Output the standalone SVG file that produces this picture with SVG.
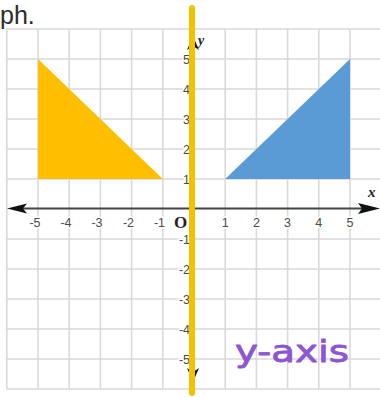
<svg xmlns="http://www.w3.org/2000/svg" width="380" height="397" viewBox="0 0 380 397">
<style>
.grid line{stroke:#d9d9d9;stroke-width:1.6}
.tl{font-family:"Liberation Sans",Arial,sans-serif;font-size:12.5px;fill:#4a4a4a;stroke:#fff;stroke-width:3;paint-order:stroke;stroke-linejoin:round}
.tx{text-anchor:middle}
.ty{text-anchor:end}
.it{font-family:"Liberation Serif","Times New Roman",serif;font-style:italic;font-weight:bold;fill:#222}
</style>
<rect width="380" height="397" fill="#fff"/>
<text x="0" y="24" font-family="'Liberation Sans',Arial,sans-serif" font-size="25" fill="#2b2b2b">ph.</text>
<g class="grid" id="grid">
<line x1="6.8" y1="29" x2="6.8" y2="389"/>
<line x1="38" y1="29" x2="38" y2="389"/>
<line x1="69.2" y1="29" x2="69.2" y2="389"/>
<line x1="100.4" y1="29" x2="100.4" y2="389"/>
<line x1="131.6" y1="29" x2="131.6" y2="389"/>
<line x1="162.8" y1="29" x2="162.8" y2="389"/>
<line x1="225.2" y1="29" x2="225.2" y2="389"/>
<line x1="256.4" y1="29" x2="256.4" y2="389"/>
<line x1="287.6" y1="29" x2="287.6" y2="389"/>
<line x1="318.8" y1="29" x2="318.8" y2="389"/>
<line x1="350" y1="29" x2="350" y2="389"/>
<line x1="6.8" y1="29" x2="380" y2="29"/>
<line x1="6.8" y1="59" x2="380" y2="59"/>
<line x1="6.8" y1="89" x2="380" y2="89"/>
<line x1="6.8" y1="119" x2="380" y2="119"/>
<line x1="6.8" y1="149" x2="380" y2="149"/>
<line x1="6.8" y1="179" x2="380" y2="179"/>
<line x1="6.8" y1="239" x2="380" y2="239"/>
<line x1="6.8" y1="269" x2="380" y2="269"/>
<line x1="6.8" y1="299" x2="380" y2="299"/>
<line x1="6.8" y1="329" x2="380" y2="329"/>
<line x1="6.8" y1="359" x2="380" y2="359"/>
<line x1="6.8" y1="389" x2="380" y2="389"/>
</g>
<g id="yellow-triangle"><polygon points="38,59 38,179 162.8,179" fill="#fdbf00"/></g>
<g id="blue-triangle"><polygon points="225.2,179 350,179 350,59" fill="#5b9bd5"/></g>
<g id="axes">
<line x1="20" y1="208.5" x2="366" y2="208.5" stroke="#444" stroke-width="2"/>
<polygon points="7,208.5 27,203.5 23,208.5 27,213.5" fill="#111"/>
<polygon points="380,208.5 358,203 362,208.5 358,214" fill="#111"/>
<line x1="193" y1="45" x2="193" y2="372" stroke="#444" stroke-width="2"/>
<polygon points="193,36 187,50 193,46 199,50" fill="#111"/>
<polygon points="193,382 187,368 193,372 199,368" fill="#111"/>
</g>
<g id="labels">
<text class="tl tx" x="35" y="227">-5</text>
<text class="tl tx" x="66" y="227">-4</text>
<text class="tl tx" x="97" y="227">-3</text>
<text class="tl tx" x="128.5" y="227">-2</text>
<text class="tl tx" x="159.5" y="227">-1</text>
<text class="tl tx" x="225.2" y="227">1</text>
<text class="tl tx" x="256.4" y="227">2</text>
<text class="tl tx" x="287.6" y="227">3</text>
<text class="tl tx" x="318.8" y="227">4</text>
<text class="tl tx" x="350" y="227">5</text>
<text class="tl ty" x="190" y="63.5">5</text>
<text class="tl ty" x="190" y="93.5">4</text>
<text class="tl ty" x="190" y="123.5">3</text>
<text class="tl ty" x="190" y="153.5">2</text>
<text class="tl ty" x="190" y="183.5">1</text>
<text class="tl ty" x="190" y="243.5">-1</text>
<text class="tl ty" x="190" y="273.5">-2</text>
<text class="tl ty" x="190" y="303.5">-3</text>
<text class="tl ty" x="190" y="333.5">-4</text>
<text class="tl ty" x="190" y="363.5">-5</text>
<text x="174" y="228" font-family="'Liberation Serif',serif" font-weight="bold" font-size="17" fill="#222">O</text>
<text class="it" x="368" y="197" font-size="15">x</text>
<text class="it" x="198" y="45" font-size="14">y</text>
</g>
<g id="y-axis-highlight">
<line x1="192" y1="8" x2="192" y2="393" stroke="#f2c200" stroke-width="6" stroke-linecap="round"/>
</g>
<g id="note">
<text x="235" y="362" font-family="'DejaVu Sans',sans-serif" font-size="30" fill="#8c55d2" stroke="#8c55d2" stroke-width="0.8" stroke-linejoin="round" textLength="114" lengthAdjust="spacingAndGlyphs">y-axis</text>
</g>
</svg>
